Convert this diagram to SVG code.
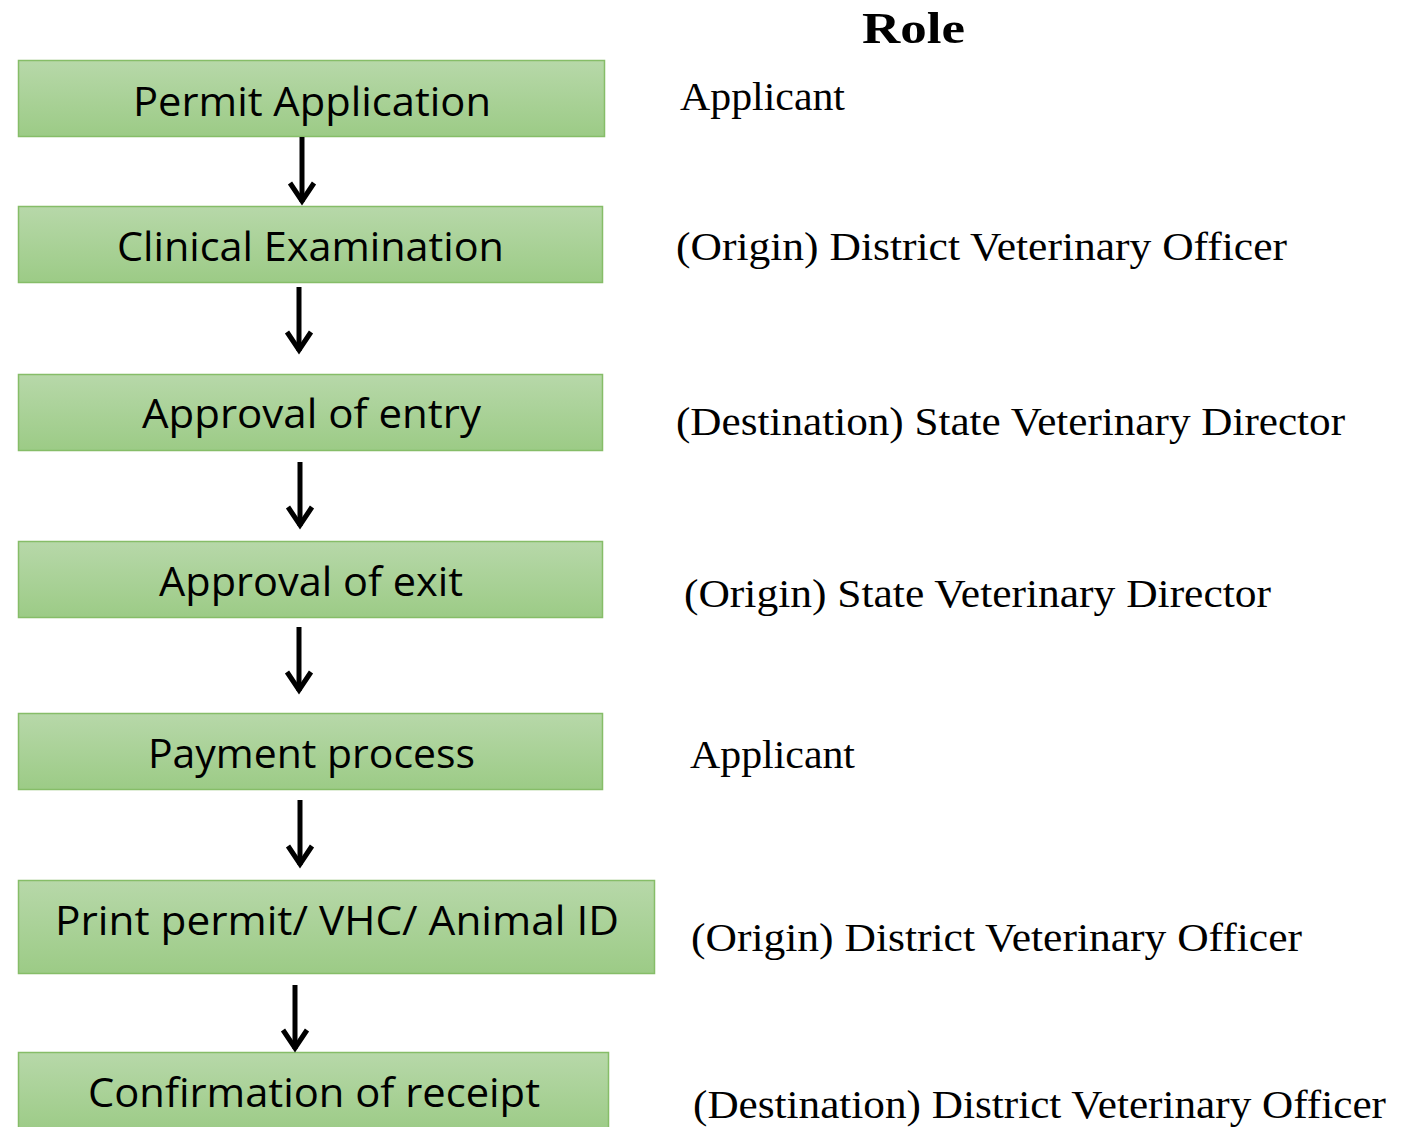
<svg xmlns="http://www.w3.org/2000/svg" width="1414" height="1127" viewBox="0 0 1414 1127">
<defs>
<linearGradient id="g" x1="0" y1="0" x2="0" y2="1">
<stop offset="0" stop-color="#b7d8a9"/>
<stop offset="1" stop-color="#9ccb86"/>
</linearGradient>
<marker id="ah" viewBox="0 0 26 30" refX="22" refY="15" markerWidth="26" markerHeight="30" markerUnits="userSpaceOnUse" orient="auto">
<path d="M3,3 L21,15 L3,27" fill="none" stroke="#000" stroke-width="5"/>
</marker>
<style>
.box{fill:url(#g);stroke:#86bd68;stroke-width:1.5}
.bt{font-family:"Open Sans","Noto Sans",sans-serif;font-size:41px;fill:#000}
.rt{font-family:"Liberation Serif","DejaVu Serif",serif;font-size:40px;fill:#000}
.hd{font-family:"Liberation Serif","DejaVu Serif",serif;font-size:44px;font-weight:bold;fill:#000}
.con line{stroke:#000;stroke-width:5;marker-end:url(#ah)}
</style>
</defs>
<rect width="1414" height="1127" fill="#fff"/>
<text class="hd" x="862" y="43" textLength="103" lengthAdjust="spacingAndGlyphs">Role</text>
<g id="n1"><rect class="box" x="18.5" y="60.5" width="586" height="76"/><text class="bt" x="133" y="116" textLength="358" lengthAdjust="spacingAndGlyphs">Permit Application</text></g>
<g id="n2"><rect class="box" x="18.5" y="206.5" width="584" height="76"/><text class="bt" x="117" y="261" textLength="387" lengthAdjust="spacingAndGlyphs">Clinical Examination</text></g>
<g id="n3"><rect class="box" x="18.5" y="374.5" width="584" height="76"/><text class="bt" x="142" y="428" textLength="339" lengthAdjust="spacingAndGlyphs">Approval of entry</text></g>
<g id="n4"><rect class="box" x="18.5" y="541.5" width="584" height="76"/><text class="bt" x="159" y="596" textLength="304" lengthAdjust="spacingAndGlyphs">Approval of exit</text></g>
<g id="n5"><rect class="box" x="18.5" y="713.5" width="584" height="76"/><text class="bt" x="148" y="768" textLength="327" lengthAdjust="spacingAndGlyphs">Payment process</text></g>
<g id="n6"><rect class="box" x="18.5" y="880.5" width="636" height="93"/><text class="bt" x="55" y="935" textLength="564" lengthAdjust="spacingAndGlyphs">Print permit/ VHC/ Animal ID</text></g>
<g id="n7"><rect class="box" x="18.5" y="1052.5" width="590" height="80"/><text class="bt" x="88" y="1107" textLength="452" lengthAdjust="spacingAndGlyphs">Confirmation of receipt</text></g>
<g id="roles">
<text class="rt" x="680" y="110" textLength="165" lengthAdjust="spacingAndGlyphs">Applicant</text>
<text class="rt" x="676" y="260" textLength="611" lengthAdjust="spacingAndGlyphs">(Origin) District Veterinary Officer</text>
<text class="rt" x="676" y="435" textLength="669" lengthAdjust="spacingAndGlyphs">(Destination) State Veterinary Director</text>
<text class="rt" x="684" y="607" textLength="587" lengthAdjust="spacingAndGlyphs">(Origin) State Veterinary Director</text>
<text class="rt" x="690" y="768" textLength="165" lengthAdjust="spacingAndGlyphs">Applicant</text>
<text class="rt" x="691" y="951" textLength="611" lengthAdjust="spacingAndGlyphs">(Origin) District Veterinary Officer</text>
<text class="rt" x="693" y="1118" textLength="693" lengthAdjust="spacingAndGlyphs">(Destination) District Veterinary Officer</text>
</g>
<g id="connectors" class="con">
<line x1="302" y1="137" x2="302" y2="202"/>
<line x1="299" y1="287" x2="299" y2="351"/>
<line x1="300" y1="462" x2="300" y2="526"/>
<line x1="299" y1="627" x2="299" y2="691"/>
<line x1="300" y1="800" x2="300" y2="865"/>
<line x1="295" y1="985" x2="295" y2="1049"/>
</g>
</svg>
